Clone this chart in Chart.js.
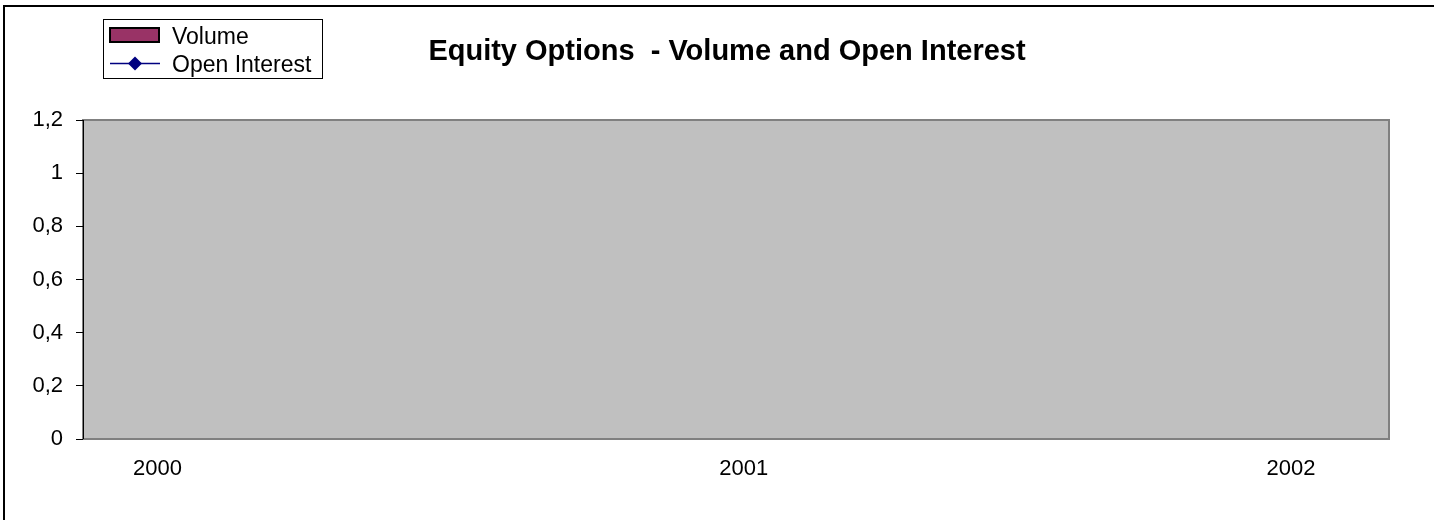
<!DOCTYPE html>
<html><head><meta charset="utf-8">
<script src="https://cdn.jsdelivr.net/npm/chart.js@4/dist/chart.umd.min.js"></script>
<style>html,body{margin:0;padding:0;background:#fff;overflow:hidden}#wrap{width:1434px;height:520px;position:relative}</style>
</head><body><div id="wrap"><canvas id="c" width="1434" height="520"></canvas></div>
<script>
// ---- data ----
const chartTitle = 'Equity Options  - Volume and Open Interest';
const seriesNames = ['Volume', 'Open Interest'];
const volumeValues = [];          // no values plotted in the reference
const openInterestValues = [];    // no values plotted in the reference
const yTickValues = [0, 0.2, 0.4, 0.6, 0.8, 1, 1.2];
const xTickLabels = ['2000', '2001', '2002'];
const xTickPeriods = [5.7, 50.6, 92.5]; // position of each year label on the period axis (0-100)

const FONT = 'Arial, "Liberation Sans", sans-serif';
const volColor = '#993366', oiColor = '#000080';

const framePlugin = {
  id: 'frame',
  beforeDraw(chart) {
    const c = chart.ctx, a = chart.chartArea;
    c.save();
    c.fillStyle = '#fff'; c.fillRect(0, 0, chart.width, chart.height);
    // outer frame (clipped)
    c.strokeStyle = '#000'; c.lineWidth = 2;
    c.beginPath(); c.moveTo(4, chart.height); c.lineTo(4, 6); c.lineTo(chart.width, 6); c.stroke();
    // plot area
    c.fillStyle = '#C0C0C0';
    c.fillRect(a.left, a.top, a.right - a.left, a.bottom - a.top);
    c.strokeStyle = '#808080'; c.lineWidth = 2;
    c.strokeRect(a.left, a.top, a.right - a.left, a.bottom - a.top);
    c.restore();
  },
  afterDraw(chart) {
    const c = chart.ctx, a = chart.chartArea;
    c.save();
    // title
    c.fillStyle = '#000'; c.font = 'bold 29px ' + FONT;
    c.textAlign = 'center'; c.textBaseline = 'middle';
    c.fillText(chartTitle, 727, 52);
    // legend box
    c.strokeStyle = '#000'; c.lineWidth = 1;
    c.strokeRect(103.5, 19.5, 219, 59);
    const ds = chart.data.datasets;
    c.font = '23px ' + FONT; c.textAlign = 'left'; c.textBaseline = 'alphabetic';
    // volume swatch
    c.fillStyle = ds[0].backgroundColor;
    c.fillRect(110, 28, 49, 14);
    c.strokeStyle = '#000'; c.lineWidth = 2; c.strokeRect(110, 28, 49, 14);
    c.fillStyle = '#000'; c.fillText(ds[0].label, 172, 44);
    // open interest line
    c.strokeStyle = ds[1].borderColor; c.lineWidth = 1.5;
    c.beginPath(); c.moveTo(110, 63.5); c.lineTo(160, 63.5); c.stroke();
    c.fillStyle = ds[1].borderColor;
    c.beginPath(); c.moveTo(135, 56.5); c.lineTo(142, 63.5); c.lineTo(135, 70.5); c.lineTo(128, 63.5); c.closePath(); c.fill();
    c.fillStyle = '#000'; c.fillText(ds[1].label, 172, 72);
    // y axis line
    c.strokeStyle = '#000'; c.lineWidth = 1;
    c.beginPath(); c.moveTo(a.left + 0.5, a.top); c.lineTo(a.left + 0.5, a.bottom); c.stroke();
    c.restore();
  }
};

new Chart(document.getElementById('c'), {
  type: 'bar',
  data: {
    datasets: [
      { type: 'bar', label: seriesNames[0], data: volumeValues, backgroundColor: volColor, borderColor: '#000', borderWidth: 1 },
      { type: 'line', label: seriesNames[1], data: openInterestValues, borderColor: oiColor, backgroundColor: oiColor, pointStyle: 'rectRot', pointRadius: 5 }
    ]
  },
  options: {
    responsive: false, animation: false,
    layout: { padding: { top: 120, right: 45, bottom: 0, left: 0 } },
    plugins: { legend: { display: false }, title: { display: false }, tooltip: { enabled: false } },
    scales: {
      x: {
        type: 'linear', min: 0, max: 100, offset: false, bounds: 'data',
        grid: { display: false, drawTicks: false, offset: false },
        border: { display: false },
        afterBuildTicks(s) { s.ticks = xTickPeriods.map(v => ({ value: v })); },
        afterFit(s) { s.height = 81; },
        ticks: {
          autoSkip: false, maxRotation: 0, padding: 17, color: '#000', font: { family: FONT, size: 22 },
          callback(v) { const i = xTickPeriods.indexOf(v); return i >= 0 ? xTickLabels[i] : ''; }
        }
      },
      y: {
        min: 0, max: 1.2,
        afterBuildTicks(s) { s.ticks = yTickValues.map(v => ({ value: v })); },
        afterFit(s) { s.width = 83; },
        grid: { drawOnChartArea: false, drawTicks: true, tickLength: 7, color: '#000' },
        border: { display: false },
        ticks: {
          padding: 13, color: '#000', font: { family: FONT, size: 22 },
          callback(v) { return String(v).replace('.', ','); }
        }
      }
    }
  },
  plugins: [framePlugin]
});
</script></body></html>
